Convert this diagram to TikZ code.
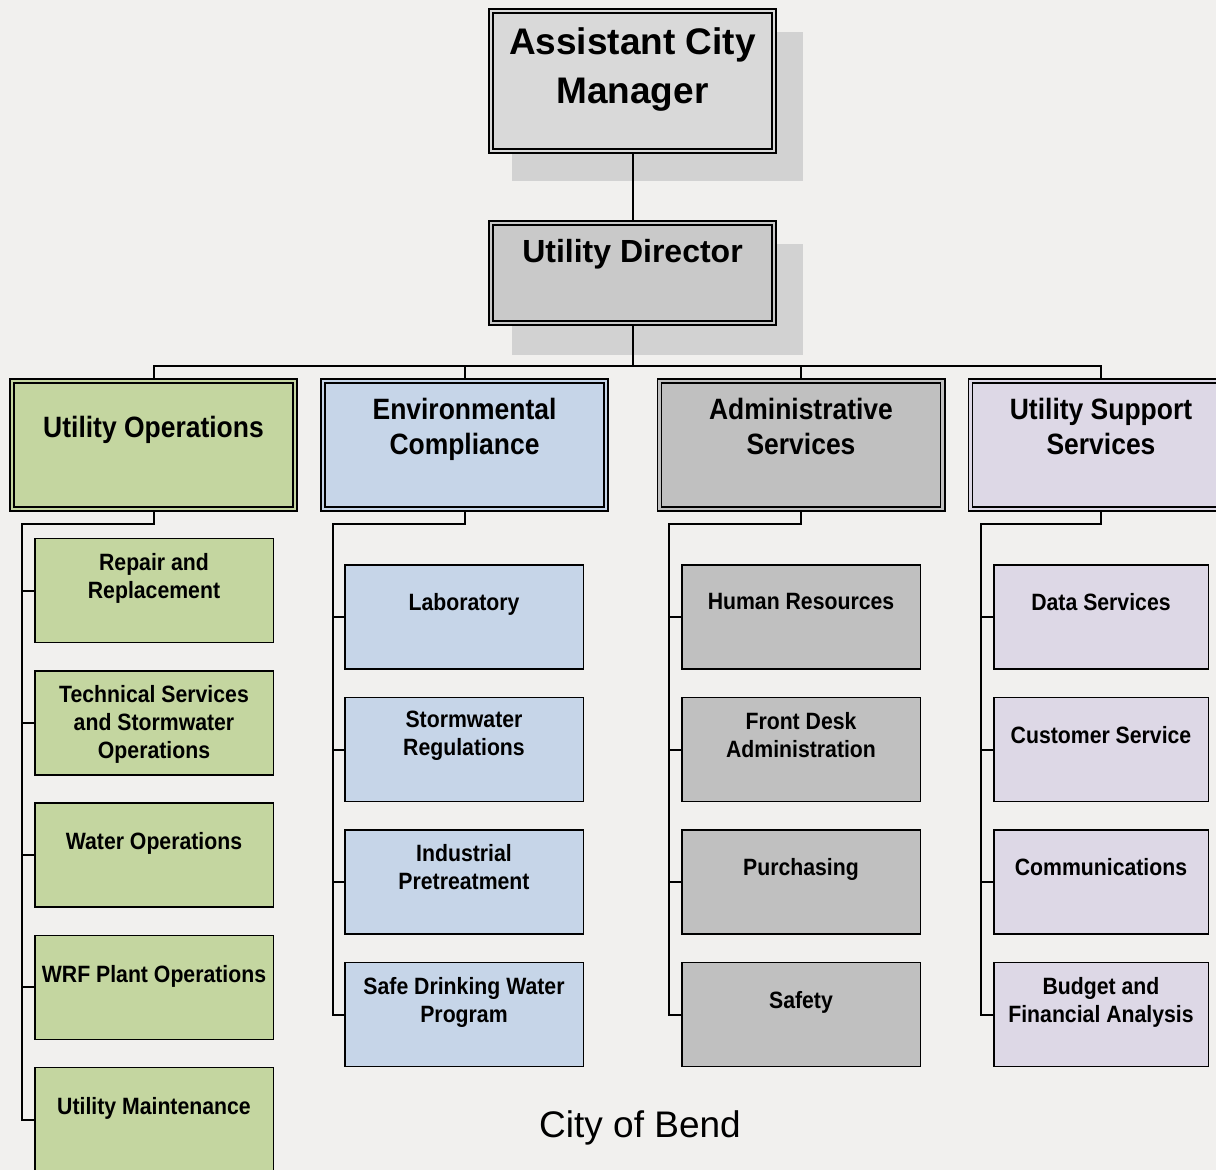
\documentclass[tikz,border=0pt]{standalone}
\usepackage{fontspec}
\setmainfont{Liberation Sans}
\newfontfamily\narrowbold{Liberation Sans}[FakeStretch=0.9, UprightFont=*-Bold]
\usetikzlibrary{backgrounds}

\definecolor{page}{HTML}{F1F0EE}
\definecolor{shadowgrey}{HTML}{D2D2D2}
\definecolor{mgrfill}{HTML}{D9D9D9}
\definecolor{dirfill}{HTML}{C9C9C9}
\definecolor{opsfill}{HTML}{C4D6A0}
\definecolor{envfill}{HTML}{C6D5E8}
\definecolor{admfill}{HTML}{C0C0C0}
\definecolor{supfill}{HTML}{DDD8E6}

\begin{document}
\begin{tikzpicture}[x=1pt,y=-1pt,
  dblbox/.style={draw=black, line width=1.6pt, double=#1, double distance=2.5pt,
                 fill=#1, inner sep=0pt, outer sep=0pt},
  unitbox/.style={draw=black, line width=1.5pt, fill=#1, inner sep=0pt, outer sep=0pt,
                  minimum height=104pt},
  opsbox/.style={unitbox=opsfill, minimum width=238.5pt},
  envbox/.style={unitbox=envfill, minimum width=238.5pt},
  admbox/.style={unitbox=admfill, minimum width=238.5pt},
  supbox/.style={unitbox=supfill, minimum width=214.5pt},
  deptbox/.style={dblbox=#1, minimum width=283.3pt, minimum height=128.3pt},
  link/.style={draw=black, line width=2pt},
  label/.style={align=center, inner sep=0pt, yshift=-0.5pt, text depth=0.21em},
  toptext/.style={label, font=\bfseries\fontsize{37}{49}\selectfont},
  dirtext/.style={label, font=\bfseries\fontsize{32}{40}\selectfont},
  depttext/.style={label, font=\narrowbold\fontsize{29.4}{35}\selectfont},
  unittext/.style={label, font=\narrowbold\fontsize{23.6}{28}\selectfont},
  captext/.style={inner sep=0pt, yshift=-4pt, font=\fontsize{37}{44}\selectfont}]

\useasboundingbox (0,0) rectangle (1216,1170);
\begin{pgfonlayer}{background}
  \fill[page] (0,0) rectangle (1216,1170);
  % drop shadows behind the two top boxes
  \fill[shadowgrey] (512,32) rectangle (803,181);
  \fill[shadowgrey] (512,244) rectangle (803,355);
\end{pgfonlayer}

% top of the hierarchy
\node[dblbox=mgrfill, minimum width=283.3pt, minimum height=140.3pt] (acm) at (632.5,81) {};
\node[dblbox=dirfill, minimum width=283.3pt, minimum height=100.3pt] (ud) at (632.5,273) {};

% divisions
\node[deptbox=opsfill] (uo) at (153.5,445) {};
\node[deptbox=envfill] (ec) at (464.5,445) {};
\node[deptbox=admfill] (as) at (801,445) {};
\node[dblbox=supfill, minimum width=261.3pt, minimum height=128.3pt] (uss) at (1101,445) {};

% Utility Operations units
\node[opsbox] (uo1) at (154,590.5) {};
\node[opsbox] (uo2) at (154,722.8) {};
\node[opsbox] (uo3) at (154,855.1) {};
\node[opsbox] (uo4) at (154,987.4) {};
\node[opsbox] (uo5) at (154,1119.7) {};

% Environmental Compliance units
\node[envbox] (ec1) at (464,617) {};
\node[envbox] (ec2) at (464,749.5) {};
\node[envbox] (ec3) at (464,882) {};
\node[envbox] (ec4) at (464,1014.5) {};

% Administrative Services units
\node[admbox] (as1) at (801,617) {};
\node[admbox] (as2) at (801,749.5) {};
\node[admbox] (as3) at (801,882) {};
\node[admbox] (as4) at (801,1014.5) {};

% Utility Support Services units
\node[supbox] (us1) at (1101,617) {};
\node[supbox] (us2) at (1101,749.5) {};
\node[supbox] (us3) at (1101,882) {};
\node[supbox] (us4) at (1101,1014.5) {};

% reporting lines
\coordinate (bus) at (632.5,366);
\coordinate (uoS) at (22,524);
\coordinate (ecS) at (333,524);
\coordinate (asS) at (669,524);
\coordinate (usS) at (981,524);
\begin{pgfonlayer}{background}
  \draw[link] (acm.south) -- (ud.north);
  \draw[link] (ud.south) -- (bus);
  \draw[link] (bus) -| (uo.north);
  \draw[link] (bus) -| (ec.north);
  \draw[link] (bus) -| (as.north);
  \draw[link] (bus) -| (uss.north);

  \draw[link] (uo.south) |- (uoS) |- (uo5.west);
  \foreach \u in {uo1,uo2,uo3,uo4} \draw[link] (uoS) |- (\u.west);
  \draw[link] (ec.south) |- (ecS) |- (ec4.west);
  \foreach \u in {ec1,ec2,ec3} \draw[link] (ecS) |- (\u.west);
  \draw[link] (as.south) |- (asS) |- (as4.west);
  \foreach \u in {as1,as2,as3} \draw[link] (asS) |- (\u.west);
  \draw[link] (uss.south) |- (usS) |- (us4.west);
  \foreach \u in {us1,us2,us3} \draw[link] (usS) |- (\u.west);
\end{pgfonlayer}

% labels
\node[toptext] (acmT) at (632.5,66) {Assistant City\\Manager};
\node[dirtext] (udT) at (632.5,251) {Utility Director};

\node[depttext] (uoT) at (153.5,427) {Utility Operations};
\node[depttext] (ecT) at (464.5,427) {Environmental\\Compliance};
\node[depttext] (asT) at (801,427) {Administrative\\Services};
\node[depttext] (ussT) at (1101,427) {Utility Support\\Services};

\node[unittext] (uo1T) at (154,576) {Repair and\\Replacement};
\node[unittext] (uo2T) at (154,722) {Technical Services\\and Stormwater\\Operations};
\node[unittext] (uo3T) at (154,841) {Water Operations};
\node[unittext] (uo4T) at (154,974) {WRF Plant Operations};
\node[unittext] (uo5T) at (154,1106) {Utility Maintenance};

\node[unittext] (ec1T) at (464,602) {Laboratory};
\node[unittext] (ec2T) at (464,734) {Stormwater\\Regulations};
\node[unittext] (ec3T) at (464,867) {Industrial\\Pretreatment};
\node[unittext] (ec4T) at (464,1000) {Safe Drinking Water\\Program};

\node[unittext] (as1T) at (801,602) {Human Resources};
\node[unittext] (as2T) at (801,735) {Front Desk\\Administration};
\node[unittext] (as3T) at (801,867) {Purchasing};
\node[unittext] (as4T) at (801,1000) {Safety};

\node[unittext] (us1T) at (1101,602) {Data Services};
\node[unittext] (us2T) at (1101,735) {Customer Service};
\node[unittext] (us3T) at (1101,867) {Communications};
\node[unittext] (us4T) at (1101,1000) {Budget and\\Financial Analysis};

\node[captext] (city) at (640,1124) {City of Bend};
\end{tikzpicture}
\end{document}
